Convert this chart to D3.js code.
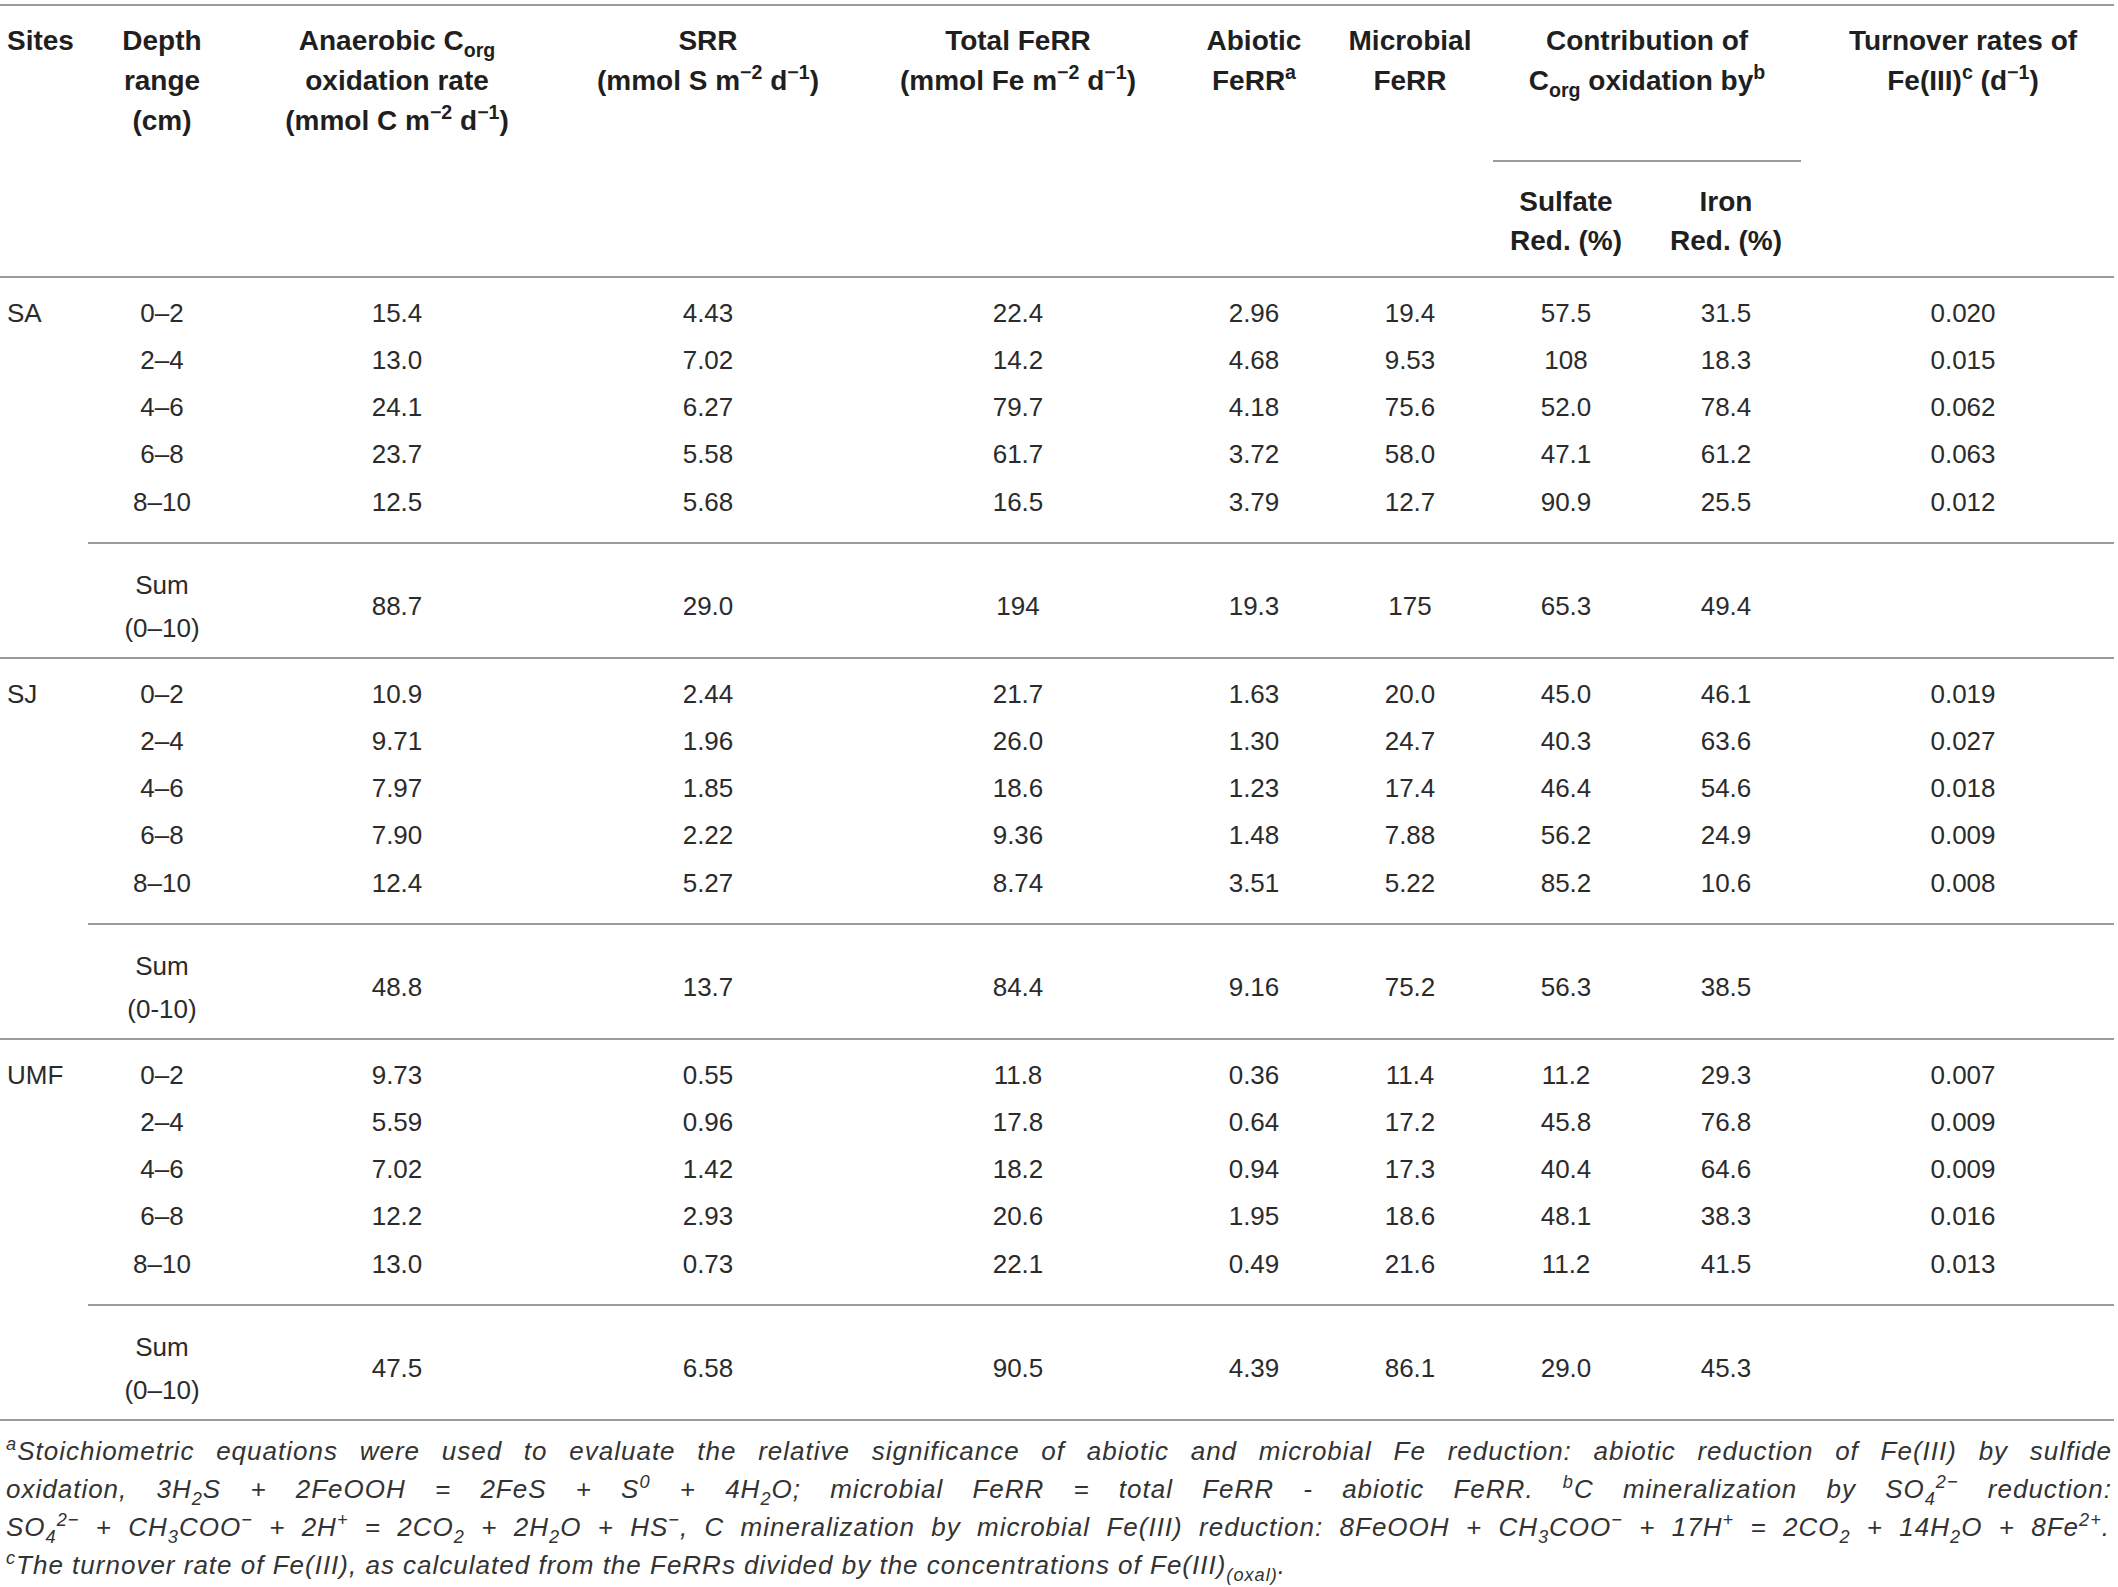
<!DOCTYPE html>
<html>
<head>
<meta charset="utf-8">
<script src="https://cdn.jsdelivr.net/npm/d3@7/dist/d3.min.js"></script>
<style>
  html, body { margin: 0; padding: 0; background: #fff; }
  svg text { white-space: pre; font-family: "Liberation Sans", Arial, Helvetica, sans-serif; }
</style>
</head>
<body>
<svg id="chart" width="2118" height="1587"></svg>
<script>
// ---------- DATA ----------
const sites = ["SA", "SJ", "UMF"];
const depths = ["0–2", "2–4", "4–6", "6–8", "8–10"];
const sumLabels = ["(0–10)", "(0-10)", "(0–10)"];
// per column: for each site 5 depth rows followed by the sum row
const anaerobic = ["15.4","13.0","24.1","23.7","12.5","88.7", "10.9","9.71","7.97","7.90","12.4","48.8", "9.73","5.59","7.02","12.2","13.0","47.5"];
const srr       = ["4.43","7.02","6.27","5.58","5.68","29.0", "2.44","1.96","1.85","2.22","5.27","13.7", "0.55","0.96","1.42","2.93","0.73","6.58"];
const totalFeRR = ["22.4","14.2","79.7","61.7","16.5","194", "21.7","26.0","18.6","9.36","8.74","84.4", "11.8","17.8","18.2","20.6","22.1","90.5"];
const abioticFeRR = ["2.96","4.68","4.18","3.72","3.79","19.3", "1.63","1.30","1.23","1.48","3.51","9.16", "0.36","0.64","0.94","1.95","0.49","4.39"];
const microbialFeRR = ["19.4","9.53","75.6","58.0","12.7","175", "20.0","24.7","17.4","7.88","5.22","75.2", "11.4","17.2","17.3","18.6","21.6","86.1"];
const sulfateRed = ["57.5","108","52.0","47.1","90.9","65.3", "45.0","40.3","46.4","56.2","85.2","56.3", "11.2","45.8","40.4","48.1","11.2","29.0"];
const ironRed    = ["31.5","18.3","78.4","61.2","25.5","49.4", "46.1","63.6","54.6","24.9","10.6","38.5", "29.3","76.8","64.6","38.3","41.5","45.3"];
const turnover   = ["0.020","0.015","0.062","0.063","0.012","", "0.019","0.027","0.018","0.009","0.008","", "0.007","0.009","0.009","0.016","0.013",""];

const headers = [
  { key: "sites", lines: ["Sites"], anchor: "start" },
  { key: "depth", lines: ["Depth", "range", "(cm)"] },
  { key: "anaerobic", lines: ["Anaerobic C_{org}", "oxidation rate", "(mmol C m^{−2} d^{−1})"] },
  { key: "srr", lines: ["SRR", "(mmol S m^{−2} d^{−1})"] },
  { key: "total", lines: ["Total FeRR", "(mmol Fe m^{−2} d^{−1})"] },
  { key: "abiotic", lines: ["Abiotic", "FeRR^{a}"] },
  { key: "microbial", lines: ["Microbial", "FeRR"] },
  { key: "contrib", lines: ["Contribution of", "C_{org} oxidation by^{b}"] },
  { key: "turnover", lines: ["Turnover rates of", "Fe(III)^{c} (d^{−1})"] }
];
const subHeaders = [
  { key: "sulfate", lines: ["Sulfate", "Red. (%)"] },
  { key: "iron", lines: ["Iron", "Red. (%)"] }
];
const footnotes = [
  { text: "^{a}Stoichiometric equations were used to evaluate the relative significance of abiotic and microbial Fe reduction: abiotic reduction of Fe(III) by sulfide", justify: true },
  { text: "oxidation, 3H_{2}S + 2FeOOH = 2FeS + S^{0} + 4H_{2}O; microbial FeRR = total FeRR - abiotic FeRR. ^{b}C mineralization by SO_{4}^{2−} reduction:", justify: true },
  { text: "SO_{4}^{2−} + CH_{3}COO^{−} + 2H^{+} = 2CO_{2} + 2H_{2}O + HS^{−}, C mineralization by microbial Fe(III) reduction: 8FeOOH + CH_{3}COO^{−} + 17H^{+} = 2CO_{2} + 14H_{2}O + 8Fe^{2+}.", justify: true },
  { text: "^{c}The turnover rate of Fe(III), as calculated from the FeRRs divided by the concentrations of Fe(III)_{(oxal)}.", justify: false }
];

// ---------- LAYOUT ----------
const W = 2118, H = 1587;
const svg = d3.select("#chart");
svg.append("rect").attr("width", W).attr("height", H).attr("fill", "#fff");

const colX = {
  sites: 7, depth: 162, anaerobic: 397, srr: 708, total: 1018, abiotic: 1254,
  microbial: 1410, contrib: 1647, sulfate: 1566, iron: 1726, turnover: 1963
};
const valueCols = [
  ["anaerobic", anaerobic], ["srr", srr], ["total", totalFeRR], ["abiotic", abioticFeRR],
  ["microbial", microbialFeRR], ["sulfate", sulfateRed], ["iron", ironRed], ["turnover", turnover]
];

const lineColor = "#9b9b9b";
const textColor = "#2b2b2b";
const headFS = 28, bodyFS = 26, noteFS = 26;

// group scale: top of each site block
const groupY = d3.scaleLinear().domain([0, sites.length]).range([277, 1420]);
// row scale within a block (row centre offset from block top)
const rowY = d3.scaleLinear().domain([0, 4]).range([35, 224]);
const sepOffset = 266;    // separator before sum row
const sumOffset = 328;    // centre of sum row

function rich(g, x, y, str, fs, anchor) {
  const t = g.append("text").attr("x", x).attr("y", y)
    .attr("text-anchor", anchor || "middle").style("font-size", fs + "px");
  const parts = str.split(/(\^\{[^}]*\}|_\{[^}]*\})/).filter(s => s !== "");
  let shift = 0;
  parts.forEach(p => {
    let txt = p, target = 0, size = null;
    if (p.startsWith("^{")) { txt = p.slice(2, -1); target = -0.40 * fs; size = 0.7 * fs; }
    else if (p.startsWith("_{")) { txt = p.slice(2, -1); target = 0.26 * fs; size = 0.7 * fs; }
    const ts = t.append("tspan").attr("dy", target - shift).text(txt);
    if (size) ts.style("font-size", size + "px");
    shift = target;
  });
  return t;
}

// ---------- RULES ----------
const rules = svg.append("g").attr("stroke", lineColor).attr("stroke-width", 2);
function hline(x1, x2, y) { rules.append("line").attr("x1", x1).attr("x2", x2).attr("y1", y).attr("y2", y); }
hline(0, 2114, 5);
hline(1493, 1801, 161);
hline(0, 2114, 277);
sites.forEach((s, i) => {
  hline(88, 2114, groupY(i) + sepOffset);
  hline(0, 2114, groupY(i + 1));
});

// ---------- HEADER ----------
const head = svg.append("g").attr("fill", "#1f1f1f").style("font-weight", "700");
const headBase = [50, 90, 130];
headers.forEach(h => {
  h.lines.forEach((ln, j) => rich(head, colX[h.key], headBase[j], ln, headFS, h.anchor));
});
const subBase = [211, 250];
subHeaders.forEach(h => {
  h.lines.forEach((ln, j) => rich(head, colX[h.key], subBase[j], ln, headFS));
});

// ---------- BODY ----------
const body = svg.append("g").attr("fill", textColor).style("font-size", bodyFS + "px");
const base = 9.5;
sites.forEach((s, gi) => {
  const top = groupY(gi);
  body.append("text").attr("x", colX.sites).attr("y", top + rowY(0) + base).text(s);
  depths.forEach((d, ri) => {
    body.append("text").attr("x", colX.depth).attr("y", top + rowY(ri) + base)
      .attr("text-anchor", "middle").text(d);
  });
  body.append("text").attr("x", colX.depth).attr("y", top + sumOffset - 21 + base)
    .attr("text-anchor", "middle").text("Sum");
  body.append("text").attr("x", colX.depth).attr("y", top + sumOffset + 22 + base)
    .attr("text-anchor", "middle").text(sumLabels[gi]);
  valueCols.forEach(([key, arr]) => {
    for (let ri = 0; ri < 6; ri++) {
      const v = arr[gi * 6 + ri];
      if (!v) continue;
      const y = ri < 5 ? top + rowY(ri) : top + sumOffset;
      body.append("text").attr("x", colX[key]).attr("y", y + base)
        .attr("text-anchor", "middle").text(v);
    }
  });
});

// ---------- FOOTNOTES ----------
const notes = svg.append("g").attr("fill", "#333").style("font-style", "italic");
const noteBase = [1460, 1498, 1536, 1574];
const noteRight = [2112, 2112, 2110];
footnotes.forEach((f, i) => {
  const t = rich(notes, 6, noteBase[i], f.text, noteFS, "start");
  t.style("letter-spacing", "1px");
  if (f.justify) {
    const len = t.node().getComputedTextLength();
    const nSpaces = (t.text().match(/ /g) || []).length;
    const ws = (noteRight[i] - 6 - len) / nSpaces;
    t.style("word-spacing", ws + "px");
  }
});
</script>
</body>
</html>
